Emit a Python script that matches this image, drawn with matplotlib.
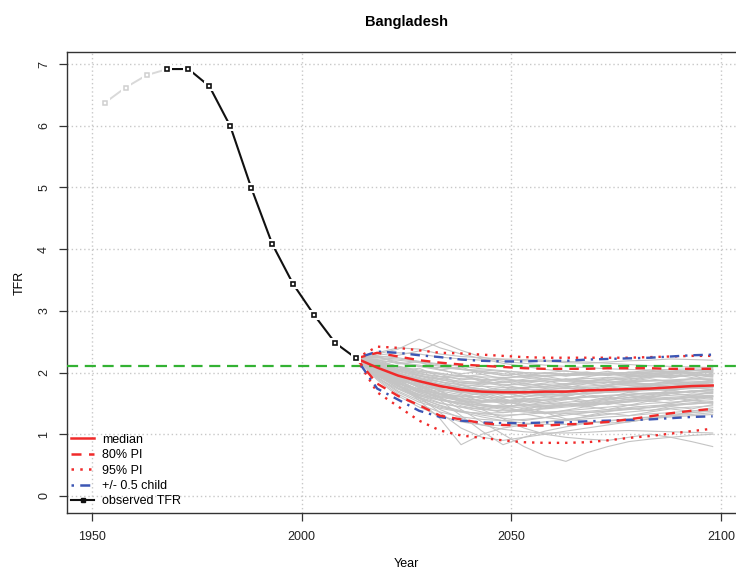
import matplotlib
matplotlib.use("Agg")
import matplotlib.pyplot as plt
from matplotlib.lines import Line2D

plt.rcParams['font.family'] = ['Liberation Sans', 'DejaVu Sans']

# ---------------- data ----------------
obs_years = [1953, 1958, 1963, 1968, 1973, 1978, 1983, 1988, 1993, 1998, 2003, 2008, 2013]
obs_tfr = [6.37, 6.62, 6.82, 6.92, 6.92, 6.64, 5.99, 4.99, 4.08, 3.43, 2.93, 2.48, 2.23]

proj_years = [2013, 2018, 2023, 2028, 2033, 2038, 2043, 2048, 2053, 2058,
              2063, 2068, 2073, 2078, 2083, 2088, 2093, 2098]
median = [2.23, 2.08, 1.95, 1.86, 1.78, 1.72, 1.69, 1.68, 1.68, 1.69,
          1.69, 1.71, 1.72, 1.73, 1.74, 1.76, 1.78, 1.79]
pi80_up = [2.23, 2.32, 2.26, 2.20, 2.16, 2.13, 2.11, 2.09, 2.07, 2.06,
           2.06, 2.06, 2.07, 2.07, 2.07, 2.06, 2.06, 2.06]
pi80_lo = [2.23, 1.82, 1.62, 1.47, 1.30, 1.24, 1.18, 1.15, 1.14, 1.14,
           1.16, 1.17, 1.20, 1.24, 1.29, 1.34, 1.38, 1.41]
pi95_up = [2.23, 2.42, 2.40, 2.36, 2.32, 2.31, 2.29, 2.27, 2.25, 2.24,
           2.24, 2.24, 2.24, 2.24, 2.25, 2.26, 2.27, 2.27]
pi95_lo = [2.23, 1.68, 1.45, 1.22, 1.06, 0.98, 0.94, 0.90, 0.87, 0.86,
           0.86, 0.87, 0.90, 0.94, 0.97, 1.01, 1.05, 1.09]
half_up = [2.23, 2.34, 2.32, 2.28, 2.25, 2.21, 2.19, 2.18, 2.18, 2.19,
           2.19, 2.21, 2.22, 2.23, 2.24, 2.26, 2.28, 2.29]
half_lo = [2.23, 1.74, 1.56, 1.38, 1.28, 1.22, 1.19, 1.18, 1.18, 1.19,
           1.19, 1.21, 1.22, 1.23, 1.24, 1.26, 1.28, 1.29]
replacement_level = 2.1

trajectories = [
    [2.23, 2.30, 2.38, 2.54, 2.40, 2.30, 2.22, 2.15, 2.10, 2.05, 2.02, 2.00, 1.98, 1.95, 1.96, 1.98, 2.00, 2.02],
    [2.23, 2.25, 2.28, 2.35, 2.50, 2.36, 2.25, 2.18, 2.15, 2.12, 2.10, 2.08, 2.06, 2.05, 2.04, 2.05, 2.06, 2.05],
    [2.23, 2.28, 2.32, 2.30, 2.25, 2.22, 2.20, 2.21, 2.19, 2.18, 2.16, 2.15, 2.17, 2.19, 2.20, 2.22, 2.21, 2.20],
    [2.23, 2.20, 2.15, 2.10, 2.08, 2.05, 2.04, 2.02, 2.00, 1.99, 1.98, 1.98, 1.99, 2.00, 2.01, 2.02, 2.03, 2.04],
    [2.23, 2.18, 2.10, 2.02, 1.98, 1.95, 1.93, 1.92, 1.93, 1.95, 1.96, 1.98, 1.99, 2.00, 2.01, 2.02, 2.03, 2.05],
    [2.23, 2.15, 2.05, 1.98, 1.93, 1.90, 1.89, 1.88, 1.87, 1.88, 1.89, 1.90, 1.92, 1.93, 1.94, 1.95, 1.96, 1.97],
    [2.23, 2.12, 2.03, 1.95, 1.88, 1.84, 1.82, 1.81, 1.80, 1.81, 1.82, 1.84, 1.85, 1.86, 1.87, 1.88, 1.90, 1.91],
    [2.23, 2.10, 1.98, 1.90, 1.85, 1.80, 1.78, 1.76, 1.75, 1.76, 1.77, 1.78, 1.80, 1.81, 1.82, 1.84, 1.85, 1.86],
    [2.23, 2.08, 1.95, 1.86, 1.79, 1.74, 1.72, 1.71, 1.72, 1.73, 1.74, 1.76, 1.77, 1.79, 1.80, 1.82, 1.83, 1.84],
    [2.23, 2.05, 1.90, 1.80, 1.72, 1.68, 1.66, 1.65, 1.66, 1.67, 1.69, 1.70, 1.72, 1.73, 1.75, 1.76, 1.78, 1.79],
    [2.23, 2.07, 1.93, 1.82, 1.74, 1.69, 1.67, 1.67, 1.68, 1.70, 1.71, 1.72, 1.73, 1.74, 1.76, 1.77, 1.79, 1.80],
    [2.23, 2.02, 1.85, 1.73, 1.66, 1.62, 1.60, 1.60, 1.61, 1.63, 1.64, 1.66, 1.68, 1.69, 1.71, 1.72, 1.74, 1.75],
    [2.23, 2.00, 1.82, 1.70, 1.62, 1.57, 1.55, 1.54, 1.55, 1.57, 1.59, 1.61, 1.63, 1.65, 1.67, 1.68, 1.70, 1.72],
    [2.23, 1.98, 1.78, 1.65, 1.56, 1.50, 1.47, 1.46, 1.47, 1.49, 1.52, 1.54, 1.57, 1.59, 1.61, 1.63, 1.65, 1.66],
    [2.23, 1.95, 1.74, 1.60, 1.50, 1.44, 1.40, 1.38, 1.39, 1.41, 1.44, 1.47, 1.50, 1.52, 1.55, 1.57, 1.59, 1.61],
    [2.23, 1.93, 1.70, 1.55, 1.44, 1.37, 1.33, 1.31, 1.32, 1.35, 1.38, 1.41, 1.44, 1.47, 1.50, 1.52, 1.54, 1.56],
    [2.23, 1.90, 1.65, 1.48, 1.36, 1.28, 1.24, 1.22, 1.24, 1.27, 1.31, 1.35, 1.38, 1.41, 1.44, 1.47, 1.49, 1.51],
    [2.23, 1.88, 1.62, 1.44, 1.30, 1.20, 1.15, 1.14, 1.16, 1.20, 1.24, 1.28, 1.32, 1.36, 1.39, 1.42, 1.44, 1.46],
    [2.23, 2.05, 1.85, 1.60, 1.35, 1.10, 0.95, 0.90, 0.95, 1.00, 1.05, 1.10, 1.15, 1.20, 1.25, 1.28, 1.30, 1.32],
    [2.23, 2.00, 1.80, 1.55, 1.25, 0.83, 1.00, 1.10, 1.15, 1.20, 1.22, 1.25, 1.28, 1.30, 1.33, 1.35, 1.38, 1.40],
    [2.23, 2.10, 1.95, 1.75, 1.55, 1.30, 1.05, 0.83, 0.95, 1.05, 1.12, 1.18, 1.22, 1.25, 1.27, 1.30, 1.32, 1.35],
    [2.23, 2.12, 1.98, 1.80, 1.60, 1.40, 1.20, 1.00, 0.80, 0.65, 0.56, 0.70, 0.80, 0.88, 0.92, 0.95, 0.98, 1.00],
    [2.23, 2.15, 2.00, 1.85, 1.70, 1.55, 1.40, 1.25, 1.10, 1.00, 0.95, 0.92, 0.90, 0.95, 1.00, 0.95, 0.88, 0.80],
    [2.23, 2.18, 2.08, 1.95, 1.85, 1.75, 1.65, 1.55, 1.45, 1.35, 1.25, 1.20, 1.18, 1.20, 1.25, 1.30, 1.35, 1.38],
    [2.23, 2.14, 2.02, 1.92, 1.85, 1.80, 1.72, 1.62, 1.55, 1.50, 1.48, 1.50, 1.55, 1.60, 1.64, 1.67, 1.70, 1.72],
    [2.23, 2.20, 2.16, 2.12, 2.05, 1.96, 1.88, 1.80, 1.74, 1.70, 1.68, 1.70, 1.73, 1.76, 1.78, 1.80, 1.82, 1.83],
    [2.23, 2.22, 2.20, 2.16, 2.10, 2.05, 2.00, 1.96, 1.92, 1.90, 1.88, 1.87, 1.88, 1.90, 1.92, 1.94, 1.95, 1.96],
    [2.23, 2.10, 1.96, 1.84, 1.75, 1.66, 1.58, 1.52, 1.48, 1.46, 1.46, 1.48, 1.50, 1.53, 1.56, 1.58, 1.60, 1.62],
    [2.23, 1.96, 1.75, 1.62, 1.55, 1.52, 1.52, 1.54, 1.57, 1.60, 1.63, 1.66, 1.68, 1.70, 1.72, 1.73, 1.75, 1.76],
    [2.23, 2.04, 1.88, 1.78, 1.72, 1.70, 1.70, 1.72, 1.75, 1.78, 1.80, 1.82, 1.84, 1.85, 1.86, 1.87, 1.88, 1.89],
    [2.23, 1.92, 1.68, 1.52, 1.42, 1.36, 1.34, 1.35, 1.38, 1.42, 1.46, 1.50, 1.53, 1.56, 1.58, 1.60, 1.62, 1.63],
    [2.23, 2.16, 2.05, 1.96, 1.90, 1.86, 1.84, 1.84, 1.85, 1.86, 1.86, 1.85, 1.84, 1.82, 1.80, 1.78, 1.77, 1.76],
    [2.23, 2.08, 1.92, 1.78, 1.66, 1.56, 1.48, 1.42, 1.38, 1.36, 1.36, 1.37, 1.40, 1.43, 1.46, 1.48, 1.51, 1.53],
    [2.23, 2.00, 1.78, 1.60, 1.46, 1.36, 1.28, 1.22, 1.18, 1.16, 1.16, 1.18, 1.21, 1.25, 1.28, 1.32, 1.35, 1.38],
    [2.23, 2.26, 2.24, 2.18, 2.12, 2.06, 2.02, 1.98, 1.96, 1.95, 1.95, 1.96, 1.97, 1.98, 1.99, 2.00, 2.00, 2.01],
    [2.23, 2.12, 2.00, 1.90, 1.82, 1.76, 1.72, 1.68, 1.66, 1.65, 1.65, 1.66, 1.68, 1.70, 1.72, 1.74, 1.76, 1.78],
    [2.23, 1.97, 1.77, 1.64, 1.56, 1.50, 1.46, 1.44, 1.44, 1.45, 1.47, 1.49, 1.51, 1.54, 1.56, 1.58, 1.60, 1.62],
    [2.23, 2.06, 1.90, 1.76, 1.64, 1.54, 1.46, 1.40, 1.36, 1.34, 1.34, 1.35, 1.37, 1.40, 1.43, 1.46, 1.49, 1.52],
    [2.23, 2.24, 2.22, 2.18, 2.14, 2.10, 2.06, 2.03, 2.00, 1.98, 1.97, 1.96, 1.96, 1.97, 1.98, 1.99, 2.00, 2.00],
    [2.23, 2.02, 1.84, 1.70, 1.60, 1.54, 1.52, 1.52, 1.53, 1.55, 1.57, 1.60, 1.62, 1.64, 1.66, 1.68, 1.69, 1.70],
    [2.23, 2.02, 1.80, 1.58, 1.40, 1.26, 1.15, 1.08, 1.04, 1.02, 1.02, 1.03, 1.05, 1.06, 1.05, 1.04, 1.03, 1.02],
    [2.23, 2.32, 2.40, 2.38, 2.30, 2.26, 2.24, 2.22, 2.21, 2.20, 2.18, 2.17, 2.15, 2.13, 2.11, 2.10, 2.09, 2.08],
    [2.23, 2.15, 2.09, 1.98, 1.94, 1.83, 1.80, 1.86, 1.79, 1.83, 1.90, 1.85, 1.92, 1.88, 1.95, 1.91, 1.97, 1.93],
    [2.23, 2.04, 1.97, 1.83, 1.79, 1.70, 1.74, 1.66, 1.71, 1.64, 1.70, 1.75, 1.69, 1.76, 1.80, 1.74, 1.81, 1.78],
    [2.23, 2.19, 2.02, 2.07, 1.93, 1.96, 1.85, 1.90, 1.82, 1.87, 1.80, 1.84, 1.90, 1.86, 1.93, 1.97, 1.92, 1.99],
    [2.23, 1.99, 1.88, 1.71, 1.66, 1.52, 1.58, 1.49, 1.55, 1.61, 1.56, 1.64, 1.60, 1.68, 1.64, 1.71, 1.67, 1.73],
    [2.23, 2.11, 1.91, 1.86, 1.70, 1.64, 1.53, 1.58, 1.47, 1.52, 1.58, 1.51, 1.57, 1.63, 1.59, 1.66, 1.62, 1.69],
    [2.23, 2.27, 2.14, 2.18, 2.04, 2.09, 1.97, 2.02, 1.94, 1.99, 2.03, 1.97, 2.02, 1.96, 2.01, 2.05, 1.99, 2.03],
    [2.23, 2.01, 1.81, 1.74, 1.58, 1.49, 1.42, 1.35, 1.41, 1.33, 1.39, 1.45, 1.40, 1.47, 1.43, 1.50, 1.55, 1.50],
    [2.23, 2.09, 2.00, 1.87, 1.81, 1.76, 1.64, 1.69, 1.60, 1.66, 1.61, 1.69, 1.74, 1.70, 1.77, 1.73, 1.80, 1.84],
    [2.23, 2.13, 1.96, 1.91, 1.77, 1.73, 1.78, 1.70, 1.76, 1.81, 1.75, 1.82, 1.78, 1.85, 1.81, 1.87, 1.83, 1.88],
    [2.23, 1.94, 1.80, 1.63, 1.51, 1.44, 1.36, 1.29, 1.33, 1.27, 1.34, 1.30, 1.37, 1.42, 1.38, 1.45, 1.41, 1.48],
    [2.23, 2.06, 1.86, 1.81, 1.66, 1.61, 1.67, 1.59, 1.64, 1.70, 1.65, 1.72, 1.68, 1.75, 1.71, 1.77, 1.82, 1.77],
    [2.23, 2.21, 2.09, 2.01, 1.97, 1.88, 1.92, 1.84, 1.89, 1.94, 1.88, 1.93, 1.98, 1.93, 1.99, 1.94, 2.00, 1.96],
    [2.23, 1.98, 1.84, 1.67, 1.59, 1.46, 1.40, 1.45, 1.37, 1.43, 1.49, 1.44, 1.51, 1.47, 1.54, 1.50, 1.57, 1.61],
    [2.23, 2.07, 1.93, 1.88, 1.75, 1.79, 1.71, 1.76, 1.68, 1.74, 1.79, 1.73, 1.79, 1.84, 1.80, 1.86, 1.82, 1.87],
    [2.23, 2.03, 1.90, 1.76, 1.69, 1.57, 1.62, 1.53, 1.58, 1.50, 1.56, 1.61, 1.57, 1.63, 1.59, 1.66, 1.70, 1.67],
    [2.23, 2.16, 2.06, 2.00, 1.90, 1.94, 1.87, 1.91, 1.85, 1.90, 1.86, 1.91, 1.87, 1.92, 1.96, 1.92, 1.97, 1.94],
    [2.23, 1.91, 1.73, 1.58, 1.47, 1.38, 1.31, 1.26, 1.22, 1.27, 1.23, 1.29, 1.34, 1.30, 1.36, 1.41, 1.37, 1.43],
    [2.23, 2.10, 2.03, 1.94, 1.89, 1.81, 1.85, 1.78, 1.83, 1.77, 1.82, 1.87, 1.81, 1.86, 1.90, 1.85, 1.90, 1.95],
    [2.23, 2.00, 1.87, 1.72, 1.64, 1.60, 1.53, 1.57, 1.50, 1.55, 1.60, 1.54, 1.60, 1.56, 1.62, 1.67, 1.63, 1.68],
    [2.23, 2.12, 1.99, 1.90, 1.79, 1.74, 1.68, 1.73, 1.66, 1.71, 1.76, 1.71, 1.77, 1.73, 1.79, 1.83, 1.79, 1.85],
    [2.23, 1.96, 1.79, 1.68, 1.55, 1.49, 1.43, 1.48, 1.41, 1.46, 1.51, 1.46, 1.52, 1.57, 1.53, 1.59, 1.55, 1.60],
    [2.23, 2.18, 2.10, 2.04, 1.99, 1.93, 1.97, 1.90, 1.95, 2.00, 1.94, 1.99, 1.95, 2.01, 1.97, 2.02, 1.98, 2.03],
    [2.23, 2.05, 1.92, 1.84, 1.73, 1.68, 1.63, 1.67, 1.61, 1.66, 1.62, 1.68, 1.73, 1.69, 1.74, 1.70, 1.76, 1.72],
    [2.23, 2.02, 1.83, 1.69, 1.61, 1.55, 1.49, 1.44, 1.48, 1.42, 1.47, 1.53, 1.48, 1.54, 1.60, 1.55, 1.61, 1.58],
    [2.23, 2.25, 2.17, 2.10, 2.04, 1.98, 2.02, 1.95, 1.99, 1.93, 1.97, 2.01, 1.96, 2.00, 2.04, 1.99, 2.03, 2.07],
]

x_ticks = [1950, 2000, 2050, 2100]
y_ticks = [0, 1, 2, 3, 4, 5, 6, 7]

# ---------------- figure ----------------
fig = plt.figure(figsize=(7.36, 5.71), dpi=100)
ax = fig.add_axes([0.0908, 0.1016, 0.9231, 0.8074])
ax.set_xlim(1944, 2106)
ax.set_ylim(-0.277, 7.197)

ax.set_xticks(x_ticks)
ax.set_yticks(y_ticks)
ax.grid(True, color='#c8c8c8', linestyle=(0, (1, 2)), linewidth=1.0)
ax.set_axisbelow(True)

RED = '#f02a2a'
BLUE = '#3c56b4'
GREEN = '#33b233'

for tr in trajectories:
    ax.plot(proj_years, tr, color='#c4c4c4', linewidth=0.8, zorder=2)

ax.axhline(replacement_level, color=GREEN, linewidth=1.6, linestyle=(0, (5, 3)), zorder=3)

ax.plot(proj_years, pi95_up, color=RED, lw=1.7, linestyle=(0, (1, 2.5)), zorder=4)
ax.plot(proj_years, pi95_lo, color=RED, lw=1.7, linestyle=(0, (1, 2.5)), zorder=4)
ax.plot(proj_years, half_up, color=BLUE, lw=1.7, linestyle=(0, (1, 2.5, 4, 2.5)), zorder=4)
ax.plot(proj_years, half_lo, color=BLUE, lw=1.7, linestyle=(0, (1, 2.5, 4, 2.5)), zorder=4)
ax.plot(proj_years, pi80_up, color=RED, lw=1.7, linestyle=(0, (4, 3)), zorder=5)
ax.plot(proj_years, pi80_lo, color=RED, lw=1.7, linestyle=(0, (4, 3)), zorder=5)
ax.plot(proj_years, median, color=RED, lw=1.8, zorder=6)

# observed (R type "b": line with gaps around the points)
ax.plot(obs_years[:4], obs_tfr[:4], color='#d9d9d9', lw=1.4, zorder=6)
ax.plot(obs_years[3:], obs_tfr[3:], color='#111111', lw=1.5, zorder=6)
ax.plot(obs_years, obs_tfr, linestyle='none', marker='s', markersize=7.5,
        mfc='white', mec='white', mew=0, zorder=7)
ax.plot(obs_years[:3], obs_tfr[:3], linestyle='none', marker='s', markersize=3.5,
        mfc='white', mec='#d0d0d0', mew=1.1, zorder=8)
ax.plot(obs_years[3:], obs_tfr[3:], linestyle='none', marker='s', markersize=3.5,
        mfc='white', mec='#111111', mew=1.2, zorder=8)

for s in ax.spines.values():
    s.set_color('#333333')
    s.set_linewidth(1.0)

ax.tick_params(axis='both', direction='out', length=6, width=0.9, color='#333333',
               labelsize=9, labelcolor='#222222')
ax.tick_params(axis='x', pad=7)
ax.tick_params(axis='y', pad=6)
for lab in ax.get_yticklabels():
    lab.set_rotation(90)
    lab.set_va('center')

ax.set_title('Bangladesh', fontsize=10.5, fontweight='bold', pad=19)
ax.set_xlabel('Year', fontsize=9, labelpad=11)
ax.set_ylabel('TFR', fontsize=9, labelpad=9)

handles = [
    Line2D([], [], color=RED, lw=1.8),
    Line2D([], [], color=RED, lw=1.8, linestyle=(0, (4, 3))),
    Line2D([], [], color=RED, lw=1.8, linestyle=(0, (1, 2.5))),
    Line2D([], [], color=BLUE, lw=1.8, linestyle=(0, (1, 2.5, 4, 2.5))),
    Line2D([], [], color='#111111', lw=1.5, marker='s', markersize=3.5),
]
labels = ['median', '80% PI', '95% PI', '+/- 0.5 child', 'observed TFR']
ax.legend(handles, labels, loc='lower left', bbox_to_anchor=(0.002, 0.007),
          frameon=False, fontsize=9, handlelength=1.9, handletextpad=0.6,
          labelspacing=0.27, borderpad=0.2, borderaxespad=0.0)

fig.savefig('out.png', dpi=100)
